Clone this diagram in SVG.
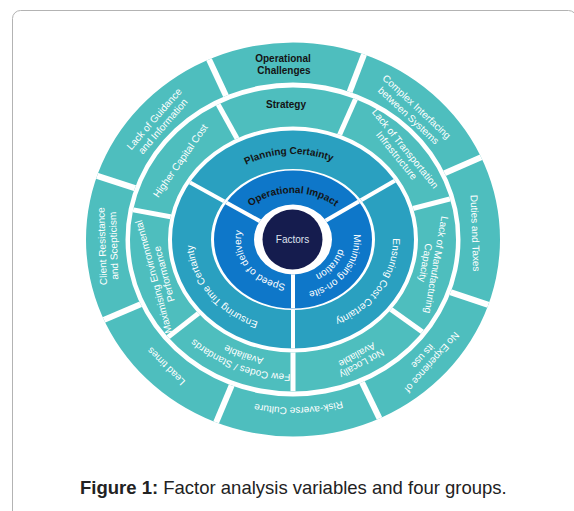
<svg xmlns="http://www.w3.org/2000/svg" width="574" height="511" viewBox="0 0 574 511">
  <style>
    .frame { fill: #ffffff; stroke: #b3b3b3; stroke-width: 1; }
    .r4, .r3 { fill: #4ebebe; }
    .r2 { fill: #2aa0c0; }
    .r1 { fill: #0e77c9; }
    .hub { fill: #151c4e; }
    .w { font-family: "Liberation Sans", Arial, sans-serif; font-size: 10px; fill: #ffffff; text-anchor: middle; }
    .d { font-family: "Liberation Sans", Arial, sans-serif; font-size: 10px; font-weight: bold; fill: #141414; text-anchor: middle; }
    .hubtext { font-family: "Liberation Sans", Arial, sans-serif; font-size: 10px; fill: #dfe3ee; text-anchor: middle; }
    .cap { font-family: "Liberation Sans", Arial, sans-serif; font-size: 18.5px; fill: #222222; }
  </style>
  <defs>
    <!-- ring annuli: outer edge clockwise, inner edge anticlockwise -->
    <path id="ring4" d="M-207 0A207 197 0 1 1 207 0A207 197 0 1 1 -207 0ZM-167.5 0A167.5 157 0 1 0 167.5 0A167.5 157 0 1 0 -167.5 0Z"/>
    <path id="ring3" d="M-163 0A163 152 0 1 1 163 0A163 152 0 1 1 -163 0ZM-125 0A125 113 0 1 0 125 0A125 113 0 1 0 -125 0Z"/>
    <path id="ring2" d="M-121 0A121 109 0 1 1 121 0A121 109 0 1 1 -121 0ZM-82 0A82 70.5 0 1 0 82 0A82 70.5 0 1 0 -82 0Z"/>
    <path id="ring1" d="M-79 0A79 69 0 1 1 79 0A79 69 0 1 1 -79 0ZM-39 0A39 35 0 1 0 39 0A39 35 0 1 0 -39 0Z"/>
    <clipPath id="clip4"><use href="#ring4"/></clipPath>
    <clipPath id="clip3"><use href="#ring3"/></clipPath>
    <clipPath id="clip2"><use href="#ring2"/></clipPath>
    <clipPath id="clip1"><use href="#ring1"/></clipPath>
    <!-- baselines for curved labels -->
    <path id="tp-planning" d="M-96.5 0A96.5 85.5 0 0 1 96.5 0"/>
    <path id="tp-impact" d="M-60 0A60 46.5 0 0 1 60 0"/>
    <path id="tp-cost" d="M64.28 -67.41A100 88 0 0 1 -34.2 82.69"/>
    <path id="tp-time" d="M41.15 80.2A100 88 0 0 1 -69.84 -62.98"/>
    <path id="tp-minim1" d="M41.68 -39.43A61 54 0 0 1 -23.93 49.67"/>
    <path id="tp-minim2" d="M32.74 -28.7A47 40 0 0 1 -19.23 36.5"/>
    <path id="tp-speed" d="M20.9 41.21A52 45 0 0 1 -35.93 -32.53"/>
    <path id="tp-codes1" d="M122.17 73.65A146 134.5 0 0 1 -142.15 -30.72"/>
    <path id="tp-codes2" d="M111.29 66.53A133 121.5 0 0 1 -129.49 -27.75"/>
    <path id="tp-risk" d="M177.21 23.67A179 168 0 0 1 -175.15 34.64"/>
  </defs>

  <rect class="frame" x="12.5" y="10.5" width="564" height="600" rx="8"/>

  <g id="wheel" transform="translate(293 239.5)">
    <g id="rings">
      <use href="#ring4" class="r4"/>
      <use href="#ring3" class="r3"/>
      <use href="#ring2" class="r2"/>
      <use href="#ring1" class="r1"/>
    </g>

    <!-- white radial gaps between segments, each set kept inside its own ring -->
    <g id="dividers" stroke="#ffffff" fill="none">
      <g clip-path="url(#clip4)" stroke-width="6">
        <line x1="0" y1="0" x2="-97.2" y2="-208.4"/>
        <line x1="0" y1="0" x2="82.4" y2="-214.7"/>
        <line x1="0" y1="0" x2="210.8" y2="-92.1"/>
        <line x1="0" y1="0" x2="218.1" y2="73"/>
        <line x1="0" y1="0" x2="100.1" y2="207.1"/>
        <line x1="0" y1="0" x2="-89.1" y2="212"/>
        <line x1="0" y1="0" x2="-211.7" y2="89.9"/>
        <line x1="0" y1="0" x2="-218.8" y2="-71.1"/>
      </g>
      <g clip-path="url(#clip3)" stroke-width="5">
        <line x1="0" y1="0" x2="-111.5" y2="-201.2"/>
        <line x1="0" y1="0" x2="93.5" y2="-210.1"/>
        <line x1="0" y1="0" x2="222.7" y2="-57.6"/>
        <line x1="0" y1="0" x2="187.2" y2="133.6"/>
        <line x1="0" y1="0" x2="0" y2="230"/>
        <line x1="0" y1="0" x2="-181.2" y2="141.6"/>
        <line x1="0" y1="0" x2="-226.2" y2="-41.9"/>
      </g>
      <g clip-path="url(#clip2)" stroke-width="4">
        <line x1="0" y1="0" x2="-201.2" y2="-111.5"/>
        <line x1="0" y1="0" x2="199.2" y2="-115"/>
        <line x1="0" y1="0" x2="0" y2="230"/>
      </g>
      <g clip-path="url(#clip1)" stroke-width="4">
        <line x1="0" y1="0" x2="-201.2" y2="-111.5"/>
        <line x1="0" y1="0" x2="199.2" y2="-115"/>
        <line x1="0" y1="0" x2="0" y2="230"/>
      </g>
    </g>

    <g id="factors">
      <circle class="hub" cx="-0.5" cy="0" r="30"/>
      <text class="hubtext" x="-0.5" y="3.5">Factors</text>
    </g>

    <!-- ring 1 -->
    <g id="operational-impact">
      <text class="d"><textPath href="#tp-impact" startOffset="50%">Operational Impact</textPath></text>
    </g>
    <g id="minimising-duration">
      <text class="w"><textPath href="#tp-minim1" startOffset="50%">Minimising on-site</textPath></text>
      <text class="w"><textPath href="#tp-minim2" startOffset="50%">duration</textPath></text>
    </g>
    <g id="speed-of-delivery">
      <text class="w"><textPath href="#tp-speed" startOffset="50%">Speed of delivery</textPath></text>
    </g>

    <!-- ring 2 -->
    <g id="planning-certainty">
      <text class="d"><textPath href="#tp-planning" startOffset="48.5%">Planning Certainty</textPath></text>
    </g>
    <g id="cost-certainty">
      <text class="w"><textPath href="#tp-cost" startOffset="50%">Ensuring Cost Certainty</textPath></text>
    </g>
    <g id="time-certainty">
      <text class="w"><textPath href="#tp-time" startOffset="50%">Ensuring Time Certainty</textPath></text>
    </g>

    <!-- ring 3 -->
    <g id="strategy">
      <text class="d" x="-7" y="-132">Strategy</text>
    </g>
    <g id="transportation">
      <text class="w" transform="rotate(51) translate(0 -141)">Lack of Transportation</text>
      <text class="w" transform="rotate(51) translate(0 -130)">Infrastructure</text>
    </g>
    <g id="manufacturing">
      <text class="w" transform="rotate(100) translate(0 -142)">Lack of Manufacturing</text>
      <text class="w" transform="rotate(100) translate(0 -131)">Capacity</text>
    </g>
    <g id="not-locally-available">
      <text class="w" transform="rotate(151) translate(0 -138.5)">Not Locally</text>
      <text class="w" transform="rotate(151) translate(0 -128.5)">Available</text>
    </g>
    <g id="codes-standards">
      <text class="w"><textPath href="#tp-codes1" startOffset="50%">Few Codes / Standards</textPath></text>
      <text class="w"><textPath href="#tp-codes2" startOffset="50%">Available</textPath></text>
    </g>
    <g id="environmental-performance">
      <text class="w" transform="rotate(255) translate(0 -141)">Maximising Environmental</text>
      <text class="w" transform="rotate(255) translate(0 -130)">Performance</text>
    </g>
    <g id="capital-cost">
      <text class="w" transform="rotate(305) translate(0 -134)">Higher Capital Cost</text>
    </g>

    <!-- ring 4 -->
    <g id="operational-challenges">
      <text class="d" x="-10" y="-177.5">Operational</text>
      <text class="d" x="-9" y="-165.5">Challenges</text>
    </g>
    <g id="complex-interfacing">
      <text class="w" transform="rotate(43) translate(0 -178)">Complex Interfacing</text>
      <text class="w" transform="rotate(43) translate(0 -166)">between Systems</text>
    </g>
    <g id="duties-taxes">
      <text class="w" transform="rotate(88) translate(0 -179)">Duties and Taxes</text>
    </g>
    <g id="no-experience">
      <text class="w" transform="rotate(131.5) translate(0 -182)">No Experience of</text>
      <text class="w" transform="rotate(132) translate(0 -171)">its use</text>
    </g>
    <g id="risk-averse-culture">
      <text class="w"><textPath href="#tp-risk" startOffset="50%">Risk-averse Culture</textPath></text>
    </g>
    <g id="lead-times">
      <text class="w" transform="rotate(225) translate(0 -176)">Lead times</text>
    </g>
    <g id="client-resistance">
      <text class="w" transform="rotate(268) translate(0 -187.5)">Client Resistance</text>
      <text class="w" transform="rotate(268) translate(0 -176)">and Scepticism</text>
    </g>
    <g id="guidance-information">
      <text class="w" transform="rotate(311) translate(0 -180.5)">Lack of Guidance</text>
      <text class="w" transform="rotate(311) translate(0 -169)">and Information</text>
    </g>
  </g>

  <text class="cap" x="80" y="494"><tspan font-weight="bold">Figure 1:</tspan> Factor analysis variables and four groups.</text>
</svg>
